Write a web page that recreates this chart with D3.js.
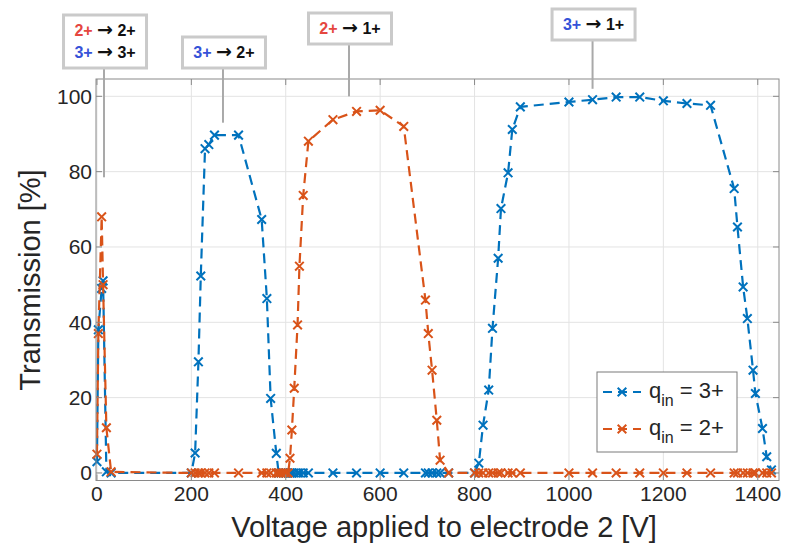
<!DOCTYPE html>
<html><head><meta charset="utf-8">
<script src="https://cdn.jsdelivr.net/npm/d3@7"></script>
<style>
body{margin:0;background:#fff}
svg{display:block}
text{font-family:"Liberation Sans",Arial,Helvetica,sans-serif}
</style>
</head><body>
<svg id="chart" width="785" height="546"></svg>
<script>
// ---- data ----
const voltages = [0, 3, 10, 13, 20, 30,
  200, 208, 215, 220, 229, 237, 249,
  300,
  349, 360, 368, 380, 385, 390, 395, 400, 405,
  409, 413, 418, 425, 429, 437, 448,
  500, 550, 600, 650,
  696, 702, 710, 720, 727,
  745, 800,
  809, 818, 830, 838, 850, 856, 871, 880, 897,
  1000, 1050, 1100, 1150, 1200, 1250, 1300,
  1350, 1357, 1369, 1378, 1390, 1395, 1410, 1419, 1429];
const transIn3 = [3, 38, 49, 51, 0.3, 0,
  0, 5.3, 29.5, 52.3, 86.1, 87.2, 89.7,
  89.7,
  67.3, 46.3, 19.8, 5.2, 0, 0, 0, 0, 0,
  0, 0, 0, 0, 0, 0, 0,
  0, 0, 0, 0,
  0, 0, 0, 0, 0,
  0, 0,
  2.6, 12.7, 22, 38.4, 57, 70.2, 79.7, 91.2, 97.2,
  98.5, 99.1, 99.8, 99.8, 98.8, 98.1, 97.6,
  75.5, 65.3, 49.4, 41, 27.3, 21.1, 11.8, 4.3, 0.8];
const transIn2 = [5, 37, 68, 50, 12, 0.3,
  0, 0, 0, 0, 0, 0, 0,
  0,
  0, 0, 0, 0, 0, 0, 0, 0, 0,
  3.9, 11.4, 22.5, 39.3, 54.9, 73.7, 88.1,
  93.8, 96.0, 96.3, 92.0,
  45.9, 37, 27.3, 14, 3.4,
  0, 0,
  0, 0, 0, 0, 0, 0, 0, 0, 0,
  0, 0, 0, 0, 0, 0, 0,
  0, 0, 0, 0, 0, 0, 0, 0, 0];
const seriesLabels = ["3+", "2+"];
const xTicks = [0, 200, 400, 600, 800, 1000, 1200, 1400];
const yTicks = [0, 20, 40, 60, 80, 100];
const xTitle = "Voltage applied to electrode 2 [V]";
const yTitle = "Transmission [%]";
// annotation anchors (voltage, transmission) and text pieces: [charge in, charge out]
const annVoltage = [15, 267, 534, 1050];
const annTrans = [78.5, 93, 100, 102];
const annText = [
  [["2+", "2+"], ["3+", "3+"]],
  [["3+", "2+"]],
  [["2+", "1+"]],
  [["3+", "1+"]]
];

// ---- layout ----
const svg = d3.select("#chart");
const pLeft = 96, pRight = 779, pTop = 79, pBottom = 480.5;
const x = d3.scaleLinear().domain([-2, 1445]).range([pLeft, pRight]);
const y = d3.scaleLinear().domain([-2, 104.6]).range([pBottom, pTop]);
const colors = ["#0072BD", "#D95319"];
const chargeColor = {"2+": "#e5473f", "3+": "#3552d8"};
const axisColor = "#262626";

// grid
const g = svg.append("g");
g.selectAll(".gx").data(xTicks).join("line")
  .attr("x1", d => x(d)).attr("x2", d => x(d)).attr("y1", pTop).attr("y2", pBottom)
  .attr("stroke", "#e3e3e3").attr("stroke-width", 1);
g.selectAll(".gy").data(yTicks).join("line")
  .attr("y1", d => y(d)).attr("y2", d => y(d)).attr("x1", pLeft).attr("x2", pRight)
  .attr("stroke", "#e3e3e3").attr("stroke-width", 1);

// series
const series = [transIn3, transIn2].map((vals, i) => ({
  color: colors[i], label: seriesLabels[i],
  pts: voltages.map((v, j) => [v, vals[j]])
}));
const line = d3.line().x(d => x(d[0])).y(d => y(d[1]));
const ms = 4.3;
const xMark = `M${-ms},${-ms}L${ms},${ms}M${-ms},${ms}L${ms},${-ms}`;
const plot = svg.append("g");
series.forEach(s => {
  plot.append("path").datum(s.pts).attr("d", line)
    .attr("fill", "none").attr("stroke", s.color).attr("stroke-width", 2.2)
    .attr("stroke-dasharray", "10,6");
  plot.append("g").selectAll("path").data(s.pts).join("path")
    .attr("transform", d => `translate(${x(d[0])},${y(d[1])})`)
    .attr("d", xMark).attr("stroke", s.color).attr("stroke-width", 2).attr("fill", "none");
});

// axes (box with inward ticks)
const axG = svg.append("g").attr("stroke", "#8a8a8a").attr("stroke-width", 1);
axG.append("rect").attr("x", pLeft).attr("y", pTop).attr("width", pRight - pLeft).attr("height", pBottom - pTop)
  .attr("fill", "none");
const tl = 6;
xTicks.forEach(t => {
  axG.append("line").attr("x1", x(t)).attr("x2", x(t)).attr("y1", pBottom).attr("y2", pBottom - tl);
  axG.append("line").attr("x1", x(t)).attr("x2", x(t)).attr("y1", pTop).attr("y2", pTop + tl);
});
yTicks.forEach(t => {
  axG.append("line").attr("y1", y(t)).attr("y2", y(t)).attr("x1", pLeft).attr("x2", pLeft + tl);
  axG.append("line").attr("y1", y(t)).attr("y2", y(t)).attr("x1", pRight).attr("x2", pRight - tl);
});
svg.append("g").selectAll("text").data(xTicks).join("text")
  .attr("x", d => x(d)).attr("y", 501).attr("text-anchor", "middle")
  .attr("font-size", 21).attr("fill", axisColor).text(d => d);
svg.append("g").selectAll("text").data(yTicks).join("text")
  .attr("x", 92).attr("y", d => y(d) + 7.5).attr("text-anchor", "end")
  .attr("font-size", 21).attr("fill", axisColor).text(d => d);
svg.append("text").attr("x", 444).attr("y", 537).attr("text-anchor", "middle")
  .attr("font-size", 29).attr("fill", axisColor).text(xTitle);
svg.append("text").attr("transform", "translate(40,280) rotate(-90)").attr("text-anchor", "middle")
  .attr("font-size", 29).attr("fill", axisColor).text(yTitle);

// legend
const lg = svg.append("g");
lg.append("rect").attr("x", 597).attr("y", 372).attr("width", 140).attr("height", 80)
  .attr("fill", "#fff").attr("stroke", "#7a7a7a").attr("stroke-width", 1);
series.forEach((s, i) => {
  const yy = 392 + i * 37;
  lg.append("line").attr("x1", 603).attr("x2", 641).attr("y1", yy).attr("y2", yy)
    .attr("stroke", s.color).attr("stroke-width", 2.2).attr("stroke-dasharray", "9,6");
  lg.append("path").attr("transform", `translate(622,${yy})`).attr("d", xMark)
    .attr("stroke", s.color).attr("stroke-width", 2).attr("fill", "none");
  const t = lg.append("text").attr("x", 649).attr("y", yy + 6).attr("font-size", 22).attr("fill", axisColor);
  t.append("tspan").text("q");
  t.append("tspan").attr("dy", 8).attr("font-size", 16).text("in");
  t.append("tspan").attr("dy", -8).text(" = " + s.label);
});

// annotations
const boxTop = [15, 37, 13, 9];
const boxW = 83, lineH = 22, boxPad = 6.5;
const ag = svg.append("g");
annText.forEach((lines, i) => {
  const ax = x(annVoltage[i]);
  const h = lines.length * lineH + boxPad * 2 - 4;
  const bx = ax - boxW / 2 + 1;
  ag.append("line").attr("x1", ax).attr("x2", ax).attr("y1", boxTop[i] + h).attr("y2", y(annTrans[i]))
    .attr("stroke", "#a9a9a9").attr("stroke-width", 2);
  ag.append("rect").attr("x", bx).attr("y", boxTop[i]).attr("width", boxW).attr("height", h)
    .attr("fill", "#fff").attr("stroke", "#cacaca").attr("stroke-width", 3);
  lines.forEach((pieces, k) => {
    const t = ag.append("text").attr("x", bx + boxW / 2).attr("y", boxTop[i] + boxPad + 14 + k * lineH)
      .attr("text-anchor", "middle").attr("font-size", 16).attr("font-weight", "bold");
    t.append("tspan").attr("fill", chargeColor[pieces[0]]).text(pieces[0] + " ");
    t.append("tspan").attr("fill", "#111").attr("font-family", "DejaVu Sans").attr("font-size", 19).text("→");
    t.append("tspan").attr("fill", "#111").text(" " + pieces[1]);
  });
});
</script>
</body></html>
